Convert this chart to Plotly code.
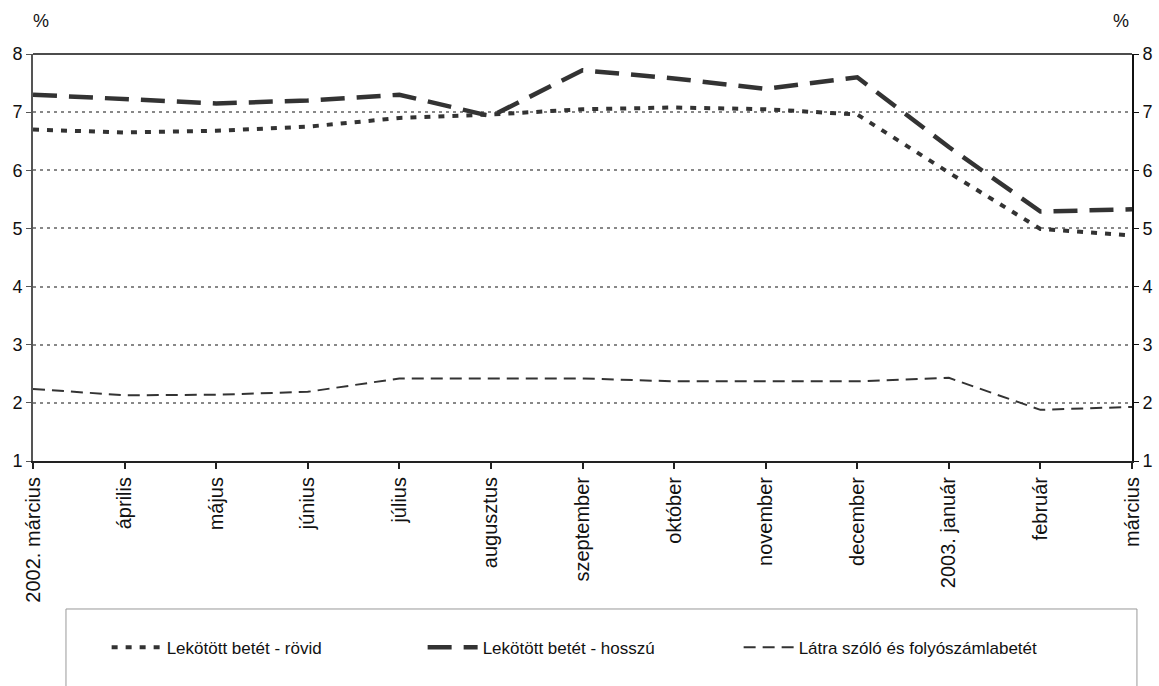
import plotly.graph_objects as go

# Hónapok (2002. március – 2003. március)
honapok = ["2002. március", "április", "május", "június", "július", "augusztus",
           "szeptember", "október", "november", "december", "2003. január",
           "február", "március"]

# Betéti kamatlábak, %
rovid = [6.70, 6.65, 6.68, 6.75, 6.90, 6.96, 7.05, 7.08, 7.05, 6.96, 5.96, 4.99, 4.88]
hosszu = [7.30, 7.23, 7.15, 7.20, 7.30, 6.93, 7.72, 7.58, 7.40, 7.60, 6.40, 5.29, 5.33]
latra = [2.24, 2.13, 2.14, 2.19, 2.42, 2.42, 2.42, 2.37, 2.37, 2.37, 2.43, 1.88, 1.93]

nevek = ["Lekötött betét - rövid", "Lekötött betét - hosszú",
         "Látra szóló és folyószámlabetét"]

y_ticks = [1, 2, 3, 4, 5, 6, 7, 8]

x = list(range(len(honapok)))
szin = "#333333"
font_fam = "Liberation Sans, Arial, sans-serif"

fig = go.Figure()
fig.add_trace(go.Scatter(x=x, y=rovid, name=nevek[0], mode="lines",
                         line=dict(color=szin, width=4, dash="6px,8px")))
fig.add_trace(go.Scatter(x=x, y=hosszu, name=nevek[1], mode="lines",
                         line=dict(color=szin, width=4.5, dash="24px,12px")))
fig.add_trace(go.Scatter(x=x, y=latra, name=nevek[2], mode="lines",
                         line=dict(color=szin, width=2, dash="12px,7px")))
# right-hand axis carries the same scale
fig.add_trace(go.Scatter(x=x, y=latra, yaxis="y2", mode="lines",
                         line=dict(width=0), showlegend=False, hoverinfo="skip"))

fig.update_layout(
    width=1159, height=686,
    margin=dict(l=33, r=27, t=54, b=225),
    paper_bgcolor="white", plot_bgcolor="white",
    font=dict(family=font_fam, size=18, color="#111"),
    xaxis=dict(range=[0, 12], tickvals=x, ticktext=honapok, tickangle=-90,
               tickfont=dict(size=20, color="#111"), automargin=False,
               showgrid=False, zeroline=False, showline=True, linecolor="#222",
               linewidth=2, ticks="outside", ticklen=6, tickcolor="#222", tickwidth=1.5),
    yaxis=dict(range=[1, 8], tickvals=y_ticks, showgrid=True, gridcolor="#888",
               griddash="3px,4px", gridwidth=1.5, zeroline=False, automargin=False,
               showline=True, linecolor="#555", linewidth=2,
               ticks="outside", ticklen=5, tickcolor="#555",
               tickfont=dict(size=18, color="#111")),
    yaxis2=dict(range=[1, 8], tickvals=y_ticks, overlaying="y", side="right",
                showgrid=False, zeroline=False, showline=True, linecolor="#111",
                linewidth=2, ticks="outside", ticklen=5, tickcolor="#111",
                automargin=False, tickfont=dict(size=18, color="#111")),
    showlegend=True,
    legend=dict(orientation="h", x=0.067, y=-0.459, xanchor="left", yanchor="middle",
                font=dict(size=17, color="#111"), entrywidth=251,
                bgcolor="rgba(0,0,0,0)", itemwidth=50),
    shapes=[
        dict(type="line", xref="paper", yref="paper", x0=0, x1=1, y0=1, y1=1,
             line=dict(color="#111", width=1.5)),
        dict(type="rect", xref="paper", yref="paper", x0=0.030, x1=1.0045,
             y0=-0.5627, y1=-0.3636, line=dict(color="#999", width=1),
             fillcolor="rgba(0,0,0,0)"),
    ],
    annotations=[
        dict(text="%", xref="paper", yref="paper", x=-0.002, y=1.081,
             yanchor="middle", showarrow=False, font=dict(size=18, color="#111")),
        dict(text="%", xref="paper", yref="paper", x=0.999, y=1.081,
             yanchor="middle", showarrow=False, font=dict(size=18, color="#111")),
    ],
)

fig.write_html("out.html")
